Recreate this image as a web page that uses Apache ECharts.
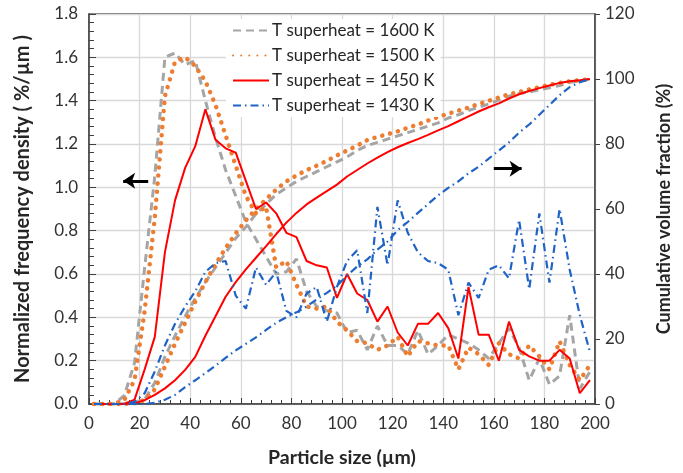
<!DOCTYPE html>
<html>
<head>
<meta charset="utf-8">
<script src="https://cdn.jsdelivr.net/npm/echarts@6/dist/echarts.min.js"></script>
<style>html,body{margin:0;padding:0;background:#fff}#c{width:683px;height:473px}</style>
</head>
<body>
<div id="c"></div>
<script>
// Particle size bin centres (µm)
const sizes = [2,6,10,14,18,22,26,30,34,38,42,46,50,54,58,62,66,70,74,78,82,86,90,94,98,102,106,110,114,118,122,126,130,134,138,142,146,150,154,158,162,166,170,174,178,182,186,190,194,198];

// Normalized frequency density (%/µm)
const dens1600 = [0,0,0,0.04,0.19,0.63,1.05,1.60,1.62,1.565, 1.585,1.40,1.23,1.08,0.96,0.84,0.76,0.68,0.60,0.61, 0.67,0.52,0.45,0.43,0.42,0.33,0.34,0.25,0.36,0.27, 0.27,0.23,0.34,0.23,0.27,0.32,0.30,0.28,0.25,0.21, 0.28,0.35,0.26,0.11,0.21,0.09,0.13,0.41,0.07,0.15];
const dens1500 = [0,0,0,0.02,0.11,0.43,0.86,1.42,1.58,1.60, 1.56,1.49,1.38,1.24,1.10,0.96,0.88,0.91,0.63,0.66, 0.55,0.45,0.44,0.45,0.38,0.34,0.29,0.28,0.25,0.27, 0.31,0.22,0.29,0.28,0.27,0.27,0.16,0.26,0.23,0.18, 0.28,0.23,0.21,0.27,0.22,0.16,0.29,0.18,0.11,0.18];
const dens1450 = [0,0,0,0,0.02,0.16,0.31,0.70,0.94,1.09, 1.19,1.36,1.22,1.18,1.16,1.03,0.90,0.93,0.88,0.79, 0.77,0.66,0.64,0.63,0.49,0.60,0.51,0.48,0.38,0.45, 0.33,0.27,0.37,0.37,0.42,0.35,0.21,0.54,0.32,0.32, 0.20,0.38,0.25,0.22,0.20,0.20,0.25,0.21,0.05,0.11];
const dens1430 = [0,0,0,0,0.01,0.05,0.15,0.27,0.37,0.45, 0.52,0.61,0.65,0.66,0.50,0.44,0.63,0.55,0.61,0.43, 0.40,0.51,0.54,0.38,0.54,0.66,0.71,0.42,0.91,0.64, 0.94,0.79,0.70,0.66,0.65,0.62,0.41,0.56,0.49,0.62, 0.64,0.58,0.85,0.53,0.88,0.56,0.90,0.62,0.41,0.24];

// Cumulative volume fraction (%)
const cum1600 = [0,0,0,0.1,0.5,1.5,6.5,14.5,21,27, 32.5,37.5,42,46.5,51,54.5,58.5,61.5,64.5,66.5, 68.5,70,71.5,73,74.5,76,78,79.5,80.5,81.5, 82.5,83.5,84.5,85.5,86.5,88,89,90.3,91.3,92.3, 93.5,94.7,95.5,96,96.7,97.3,98,99,99.4,100];
const cum1500 = [0,0,0,0.05,0.3,1.2,4.5,11.5,18.5,25, 31.5,37.5,43,48,52.5,56.5,60,63,66,68.5, 70.3,72,73.3,74.8,76.5,78,79.5,81.2,82.2,83, 83.9,85,86,87.2,88.3,89.3,90.3,91.2,92.3,93.3, 94.3,95.3,96,96.8,97.5,98.2,98.8,99.3,99.6,100];
const cum1450 = [0,0,0,0,0.2,1.2,2.8,4.8,7.3,10.5, 14.5,21,27,33,37.5,41.4,45,48.6,52.3,55.8, 58.8,61.4,63.5,65.5,67.5,70,72,74,75.8,77.5, 79,80.3,81.5,82.8,84.2,85.5,87,88.5,90,91.3, 92.5,94,95.3,96.3,97.2,98,98.8,99.3,99.6,100];
const cum1430 = [0,0,0,0,0,0,0.4,1.3,2.8,5.2, 7.3,9.5,11.8,14.2,16.5,18.5,20.5,22.8,25,26.7, 28.2,30,32.2,34.2,36.4,39.5,42.3,44.5,47.5,50, 53.5,56,58.8,61.5,64.2,66.5,68.5,71,73,75.5, 78,80.5,83.5,86,89,92,95,97.5,99,100];

const names = ['T superheat = 1600 K','T superheat = 1500 K','T superheat = 1450 K','T superheat = 1430 K'];
const xTicks = [0,20,40,60,80,100,120,140,160,180,200];

const styles = [
  {color:'#a5a5a5', width:3, type:[8,5], cap:'butt'},
  {color:'#ed7d31', width:4.5, type:[0.1,8], cap:'round'},
  {color:'#ff0000', width:2, type:'solid', cap:'butt'},
  {color:'#1f63c6', width:2.2, type:[8,4,1.5,4], cap:'butt'}
];
const densSets = [dens1600, dens1500, dens1450, dens1430];
const cumSets = [cum1600, cum1500, cum1450, cum1430];

function pairs(vals){ return sizes.map((x,i)=>[x, vals[i]]); }

const font = 'Lato, "Open Sans", sans-serif';
const series = [];
for (let k = 0; k < 4; k++) {
  const st = styles[k];
  series.push({
    name: names[k], type:'line', xAxisIndex:0, yAxisIndex:0, data: pairs(densSets[k]),
    showSymbol:false, symbol:'none', smooth:false, z: 2 + k,
    itemStyle:{color:st.color},
    lineStyle:{color:st.color, width:st.width, type:st.type, cap:st.cap}
  });
  series.push({
    name: names[k], type:'line', xAxisIndex:0, yAxisIndex:1, data: pairs(cumSets[k]),
    showSymbol:false, symbol:'none', smooth:false, z: 2 + k,
    itemStyle:{color:st.color},
    lineStyle:{color:st.color, width:st.width, type:st.type, cap:st.cap}
  });
}
// direction arrows (annotations in data coordinates)
series[0].markLine = {
  silent:true, symbol:['none','arrow'], symbolSize:12, label:{show:false},
  lineStyle:{color:'#000', width:3, type:'solid'}, itemStyle:{color:'#000'},
  data:[[{coord:[23.4,1.03]},{coord:[13.5,1.03]}]]
};
series[7].markLine = {
  silent:true, symbol:['none','arrow'], symbolSize:12, label:{show:false},
  lineStyle:{color:'#000', width:3, type:'solid'}, itemStyle:{color:'#000'},
  data:[[{coord:[160,72.4]},{coord:[171,72.4]}]]
};

const chart = echarts.init(document.getElementById('c'), null, {renderer:'canvas'});
chart.setOption({
  animation:false,
  backgroundColor:'#fff',
  textStyle:{fontFamily:font},
  grid:{left:89, right:88, top:14, bottom:68, show:true, borderColor:'#404040', borderWidth:1.3, backgroundColor:'transparent'},
  legend:{
    data:names, orient:'vertical', left:226, top:19, itemWidth:36, itemHeight:14, itemGap:8,
    backgroundColor:'#fff', padding:[3,6,3,6],
    itemStyle:{color:'rgba(0,0,0,0)', borderWidth:0, opacity:0},
    textStyle:{fontFamily:font, fontSize:17, color:'#262626', padding:[0,0,0,-2]}
  },
  xAxis:{
    type:'value', min:0, max:200, interval:20,
    name:'Particle size (µm)', nameLocation:'middle', nameGap:44,
    nameTextStyle:{fontFamily:font, fontSize:19.5, fontWeight:'bold', color:'#262626'},
    axisLine:{show:true, lineStyle:{color:'#404040', width:1.5}},
    axisTick:{show:true, inside:true, length:6, lineStyle:{color:'#404040'}},
    minorTick:{show:true, splitNumber:5, length:4, lineStyle:{color:'#404040'}},
    axisLabel:{fontFamily:font, fontSize:17, color:'#333', margin:11,
      formatter:(v)=> xTicks.indexOf(v) >= 0 ? String(v) : ''},
    splitLine:{show:true, lineStyle:{color:'#d9d9d9', width:1.3}}
  },
  yAxis:[{
    type:'value', min:0, max:1.8, interval:0.2, position:'left',
    name:'Normalized frequency density ( %/µm )', nameLocation:'middle', nameGap:56,
    nameTextStyle:{fontFamily:font, fontSize:20, fontWeight:'bold', color:'#262626'},
    axisLine:{show:true, lineStyle:{color:'#404040', width:1.5}},
    axisTick:{show:true, inside:true, length:7, lineStyle:{color:'#404040'}},
    minorTick:{show:true, splitNumber:5, length:5, lineStyle:{color:'#404040'}},
    axisLabel:{fontFamily:font, fontSize:17, color:'#333', margin:11, formatter:(v)=>v.toFixed(1)},
    splitLine:{show:true, lineStyle:{color:'#d9d9d9', width:1.3}}
  },{
    type:'value', min:0, max:120, interval:20, position:'right',
    name:'Cumulative volume fraction (%)', nameLocation:'middle', nameGap:60, nameRotate:90,
    nameTextStyle:{fontFamily:font, fontSize:18, fontWeight:'bold', color:'#262626'},
    axisLine:{show:true, lineStyle:{color:'#404040', width:1.5}},
    axisTick:{show:true, inside:false, length:5, lineStyle:{color:'#404040'}},
    axisLabel:{fontFamily:font, fontSize:17, color:'#333', margin:10},
    splitLine:{show:false}
  }],
  series:series
});
</script>
</body>
</html>
